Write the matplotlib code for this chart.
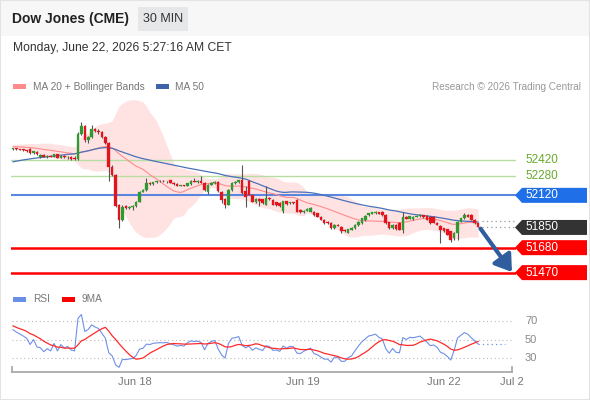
import numpy as np
import pandas as pd
import matplotlib
matplotlib.use("Agg")
import matplotlib.pyplot as plt
from matplotlib.patches import Polygon, Rectangle
from matplotlib.lines import Line2D
from matplotlib.transforms import IdentityTransform, blended_transform_factory

plt.rcParams['font.family'] = ['Liberation Sans', 'DejaVu Sans']

# ---------------- data ----------------
prior_closes = [52240, 52255, 52232, 52262, 52280, 52268, 52295, 52286, 52310, 52300,
                52276, 52260, 52248, 52270, 52290, 52305, 52298, 52320, 52335, 52318,
                52300, 52290, 52312, 52340, 52365, 52392, 52425, 52460,
                52488, 52505, 52518, 52530, 52524, 52540, 52534, 52548, 52544, 52530,
                52540, 52526, 52536, 52545, 52532, 52522, 52526, 52530, 52520, 52516, 52512]

opens = [52512, 52516, 52510, 52505, 52500, 52510, 52476, 52488, 52440, 52462,
         52446, 52454, 52445, 52466, 52434, 52455, 52440, 52445, 52428, 52424,
         52640, 52700, 52585, 52612, 52680, 52662, 52655, 52608, 52562, 52360,
         52295, 52040, 51915, 52030, 52015, 52024, 52030, 52066, 52152, 52165,
         52222, 52215, 52232, 52237, 52240, 52238, 52245, 52225, 52215, 52200,
         52206, 52200, 52215, 52240, 52235, 52238, 52228, 52150, 52210, 52225,
         52236, 52150, 52090, 52040, 52167, 52225, 52232, 52250, 52160, 52237,
         52120, 52066, 52090, 52088, 52040, 52097, 52083, 52060, 52055, 51990,
         52069, 52058, 52060, 52083, 51998, 51976, 51992, 51984, 51984, 51970,
         51942, 51914, 51900, 51886, 51844, 51872, 51858, 51830, 51807, 51830,
         51844, 51872, 51886, 51914, 51956, 51965, 51970, 51976, 51984, 51956,
         51892, 51844, 51872, 51886, 51830, 51942, 51925, 51920, 51942, 51948,
         51955, 51948, 51942, 51940, 51886, 51864, 51844, 51835, 51816, 51760,
         51802, 51900, 51928, 51956, 51956, 51914, 51886]

highs = [52522, 52520, 52514, 52512, 52505, 52520, 52495, 52492, 52468, 52466,
         52458, 52460, 52470, 52470, 52462, 52460, 52450, 52448, 52452, 52650,
         52740, 52712, 52620, 52715, 52690, 52675, 52665, 52615, 52570, 52372,
         52300, 52050, 52035, 52042, 52030, 52035, 52070, 52160, 52170, 52265,
         52230, 52235, 52242, 52245, 52246, 52244, 52250, 52230, 52220, 52210,
         52210, 52228, 52245, 52262, 52245, 52285, 52232, 52215, 52232, 52238,
         52240, 52158, 52095, 52170, 52232, 52240, 52250, 52378, 52200, 52245,
         52125, 52100, 52098, 52092, 52201, 52105, 52090, 52066, 52060, 52075,
         52075, 52066, 52064, 52090, 52004, 51998, 52010, 52018, 51990, 51975,
         51948, 51920, 51906, 51892, 51876, 51880, 51864, 51836, 51840, 51850,
         51876, 51905, 51932, 51952, 51975, 51982, 51990, 51982, 51990, 51962,
         51898, 51880, 51878, 51892, 51984, 51950, 51950, 51948, 51952, 51960,
         51958, 51952, 51946, 51944, 51892, 51868, 51848, 51840, 51820, 51810,
         51905, 51932, 51975, 51962, 51960, 51920, 51890]

lows = [52505, 52505, 52500, 52495, 52488, 52470, 52470, 52460, 52432, 52440,
        52436, 52440, 52440, 52430, 52430, 52432, 52425, 52420, 52418, 52415,
        52630, 52570, 52560, 52605, 52655, 52640, 52600, 52555, 52240, 52280,
        52020, 51843, 51905, 52005, 52008, 51995, 52025, 52060, 52145, 52160,
        52205, 52210, 52225, 52230, 52232, 52228, 52220, 52208, 52195, 52195,
        52195, 52195, 52210, 52230, 52228, 52220, 52160, 52135, 52205, 52215,
        52150, 52054, 52012, 52035, 52160, 52218, 52225, 52130, 52026, 52120,
        52060, 52055, 52027, 52050, 52035, 52085, 52035, 52032, 52020, 51975,
        52040, 52048, 52050, 51978, 51970, 51970, 51990, 51978, 51950, 51938,
        51910, 51880, 51880, 51838, 51838, 51860, 51802, 51810, 51800, 51825,
        51840, 51865, 51880, 51908, 51950, 51960, 51966, 51960, 51950, 51880,
        51838, 51838, 51830, 51826, 51802, 51920, 51920, 51915, 51935, 51942,
        51930, 51910, 51880, 51885, 51870, 51717, 51810, 51785, 51731, 51746,
        51746, 51895, 51922, 51938, 51910, 51880, 51850]

closes = [52516, 52510, 52505, 52500, 52494, 52476, 52490, 52465, 52462, 52446,
          52454, 52445, 52466, 52434, 52455, 52440, 52445, 52428, 52424, 52640,
          52705, 52585, 52612, 52680, 52662, 52650, 52608, 52562, 52360, 52295,
          52032, 51915, 52022, 52015, 52024, 52030, 52066, 52152, 52162, 52222,
          52215, 52232, 52237, 52240, 52238, 52242, 52225, 52215, 52200, 52206,
          52200, 52225, 52240, 52235, 52238, 52228, 52166, 52210, 52225, 52232,
          52156, 52085, 52040, 52165, 52225, 52232, 52245, 52142, 52108, 52125,
          52066, 52090, 52070, 52055, 52097, 52088, 52040, 52042, 52027, 52069,
          52045, 52060, 52055, 51984, 51976, 51992, 52004, 52013, 51956, 51942,
          51914, 51886, 51886, 51844, 51872, 51866, 51816, 51816, 51835, 51844,
          51872, 51900, 51928, 51948, 51970, 51976, 51984, 51965, 51956, 51886,
          51844, 51872, 51835, 51830, 51942, 51925, 51945, 51942, 51948, 51955,
          51935, 51914, 51886, 51890, 51872, 51830, 51816, 51788, 51746, 51802,
          51900, 51928, 51956, 51942, 51914, 51886, 51858]

resistance_levels = [52420, 52280]
pivot_level = 52120
last_price = 51850
ma50_last_marker = 51908
support_levels = [51680, 51470]
target_price = 51475
day_labels = ["Jun 18", "Jun 19", "Jun 22", "Jul 2"]
day_index = [35.7, 84.8, 126.0, 145.9]
rsi_levels = [70, 50, 30]

# ---------------- indicators ----------------
N = len(closes)
allc = pd.Series(prior_closes + closes, dtype=float)
P0 = len(prior_closes)
ma20 = allc.rolling(20, min_periods=1).mean().values[P0:]
sd20 = allc.rolling(20, min_periods=1).std(ddof=0).values[P0:]
ma50 = allc.rolling(50, min_periods=1).mean().values[P0:]
delta = allc.diff().fillna(0)
gain = delta.clip(lower=0).ewm(alpha=1/14, adjust=False).mean()
loss = (-delta.clip(upper=0)).ewm(alpha=1/14, adjust=False).mean()
rsi_all = 100 - 100 / (1 + gain / loss.replace(0, np.nan))
rsi_all = rsi_all.fillna(50)
rsi9_all = rsi_all.rolling(9, min_periods=1).mean()
rsi = rsi_all.values[P0:]
rsi9 = rsi9_all.values[P0:]

O = np.array(opens, float); Hh = np.array(highs, float)
L = np.array(lows, float); C = np.array(closes, float)
x = np.arange(N)

# ---------------- figure ----------------
W, H = 590, 400
fig = plt.figure(figsize=(5.9, 4.0), dpi=100)
fig.patch.set_facecolor('white')

def fx(px): return px / W
def fy(py): return 1 - py / H

# header
fig.add_artist(Rectangle((0, fy(36)), 1, 36 / H, transform=fig.transFigure,
                         facecolor='#f7f7f7', edgecolor='none', zorder=0))
fig.text(fx(12), fy(19), "Dow Jones (CME)", fontsize=10, fontweight='bold',
         color='#222222', va='center', ha='left')
fig.add_artist(Rectangle((fx(138), fy(31)), 50 / W, 24 / H, transform=fig.transFigure,
                         facecolor='#e6e7e9', edgecolor='none'))
fig.text(fx(163), fy(19), "30 MIN", fontsize=9, color='#333333', va='center', ha='center')
fig.text(fx(13), fy(48), "Monday, June 22, 2026 5:27:16 AM CET", fontsize=8.7,
         color='#333333', va='center', ha='left')

# legend top
fig.add_artist(Rectangle((fx(13), fy(89)), 13 / W, 5 / H, transform=fig.transFigure,
                         facecolor='#ff8a8a', edgecolor='none'))
fig.text(fx(33), fy(86.5), "MA 20 + Bollinger Bands", fontsize=7.3, color='#777777', va='center')
fig.add_artist(Rectangle((fx(156), fy(89)), 13 / W, 5 / H, transform=fig.transFigure,
                         facecolor='#3d63a8', edgecolor='none'))
fig.text(fx(175), fy(86.5), "MA 50", fontsize=7.3, color='#777777', va='center')
fig.text(fx(581), fy(86.5), "Research \u00a9 2026 Trading Central", fontsize=7.2,
         color='#999999', va='center', ha='right')

# main axes
ax = fig.add_axes([fx(11), fy(285), 505 / W, 190 / H])
ax.set_xlim(-0.585, 147.08)
ax.set_ylim(51366, 52964)
ax.axis('off')

ax.fill_between(x, ma20 - 2 * sd20, ma20 + 2 * sd20, color='#ffe3e3', lw=0, zorder=1)
ax.plot(x, ma20, color='#ff8c8c', lw=0.8, zorder=2)
ax.plot(x, ma50, color='#4a72b8', lw=0.9, zorder=2)

for lv in resistance_levels:
    ax.axhline(lv, color='#b9dca2', lw=1.0, zorder=1.5)
ax.axhline(pivot_level, color='#5b86e0', lw=1.5, zorder=1.5)
for lv in support_levels:
    ax.axhline(lv, color='#ff0000', lw=1.8, zorder=1.5)

up = C >= O
cols = np.where(up, '#2f9a2f', '#e3141b')
ax.vlines(x, L, Hh, color='#555555', lw=0.8, zorder=3)
ax.bar(x, np.maximum(np.abs(C - O), 6), bottom=np.minimum(O, C), width=0.75,
       color=cols, edgecolor=cols, lw=0.2, zorder=4)

# dotted markers after last candle
ax.plot([N, 147.08], [ma50_last_marker, ma50_last_marker], color='#999999', lw=0.9,
        ls=(0, (1, 2.5)), zorder=2)
ax.plot([N, 147.08], [last_price, last_price], color='#999999', lw=0.9,
        ls=(0, (1, 2.5)), zorder=2)

# arrow
ax.annotate("", xy=(145.9, target_price), xytext=(N - 0.3, last_price - 10),
            arrowprops=dict(arrowstyle='-|>,head_length=0.75,head_width=0.5',
                            color='#2f5d9e', lw=3, mutation_scale=13,
                            shrinkA=0, shrinkB=0), zorder=6)

fig.canvas.draw()

def ypix(p):
    return ax.transData.transform((0, p))[1]

def tag(p, text, color):
    yc = ypix(p)
    h = 7.5
    x0, x1, x2 = 515, 522, 587
    verts = [(x0, yc), (x1, yc + h), (x2, yc + h), (x2, yc - h), (x1, yc - h)]
    fig.add_artist(Polygon(verts, closed=True, transform=IdentityTransform(),
                           facecolor=color, edgecolor='none'))
    fig.text(fx(525), yc / H, text, color='white', fontsize=8.5, va='center', ha='left')

for lv in resistance_levels:
    fig.text(fx(525), ypix(lv) / H, str(lv), color='#6aaa2e', fontsize=8.5,
             va='center', ha='left')
tag(pivot_level, str(pivot_level), '#1f6fe8')
tag(last_price, str(last_price), '#333333')
for lv in support_levels:
    tag(lv, str(lv), '#ff0000')

# RSI legend
fig.add_artist(Rectangle((fx(13), fy(301.5)), 13 / W, 5 / H, transform=fig.transFigure,
                         facecolor='#6a8fe6', edgecolor='none'))
fig.text(fx(33), fy(299), "RSI", fontsize=7.3, color='#777777', va='center')
fig.add_artist(Rectangle((fx(62), fy(301.5)), 13 / W, 5 / H, transform=fig.transFigure,
                         facecolor='#ff0000', edgecolor='none'))
fig.text(fx(82), fy(299), "9MA", fontsize=7.3, color='#777777', va='center')

# RSI axes
ax2 = fig.add_axes([fx(11), fy(372), 505 / W, 67 / H])
ax2.set_xlim(-0.585, 147.08)
ax2.set_ylim(15.4, 87.8)
ax2.axis('off')
for v in rsi_levels:
    ax2.plot([-0.3, 145.9], [v, v], color='#bbbbbb', lw=0.8, ls=(0, (1, 2.5)))
ax2.plot(x, rsi, color='#7090e8', lw=0.8)
ax2.plot(x, rsi9, color='#ff2a2a', lw=0.9)
ax2.plot([N - 1, 144.0], [rsi[-1], rsi[-1]], color='#7090e8', lw=0.9, ls=(0, (1, 2.5)))

fig.canvas.draw()
for v in rsi_levels:
    yv = ax2.transData.transform((0, v))[1]
    fig.text(fx(525), yv / H, str(v), color='#888888', fontsize=8, va='center', ha='left')

# x axis
fig.add_artist(Line2D([fx(12), fx(512)], [fy(372), fy(372)], transform=fig.transFigure,
                      color='#aaaaaa', lw=1.3))
for xp in (12, 512):
    fig.add_artist(Line2D([fx(xp), fx(xp)], [fy(367), fy(372)], transform=fig.transFigure,
                          color='#aaaaaa', lw=1.3))
trans = blended_transform_factory(ax2.transData, fig.transFigure)
for lab, xi in zip(day_labels, day_index):
    fig.text(xi, fy(382), lab, transform=trans, fontsize=8, color='#777777',
             ha='center', va='center')

# outer border
fig.add_artist(Rectangle((0, 0), 1, 1, transform=fig.transFigure, fill=False,
                         edgecolor='#e3e3e3', lw=1.5))

fig.savefig("out.png", dpi=100)
